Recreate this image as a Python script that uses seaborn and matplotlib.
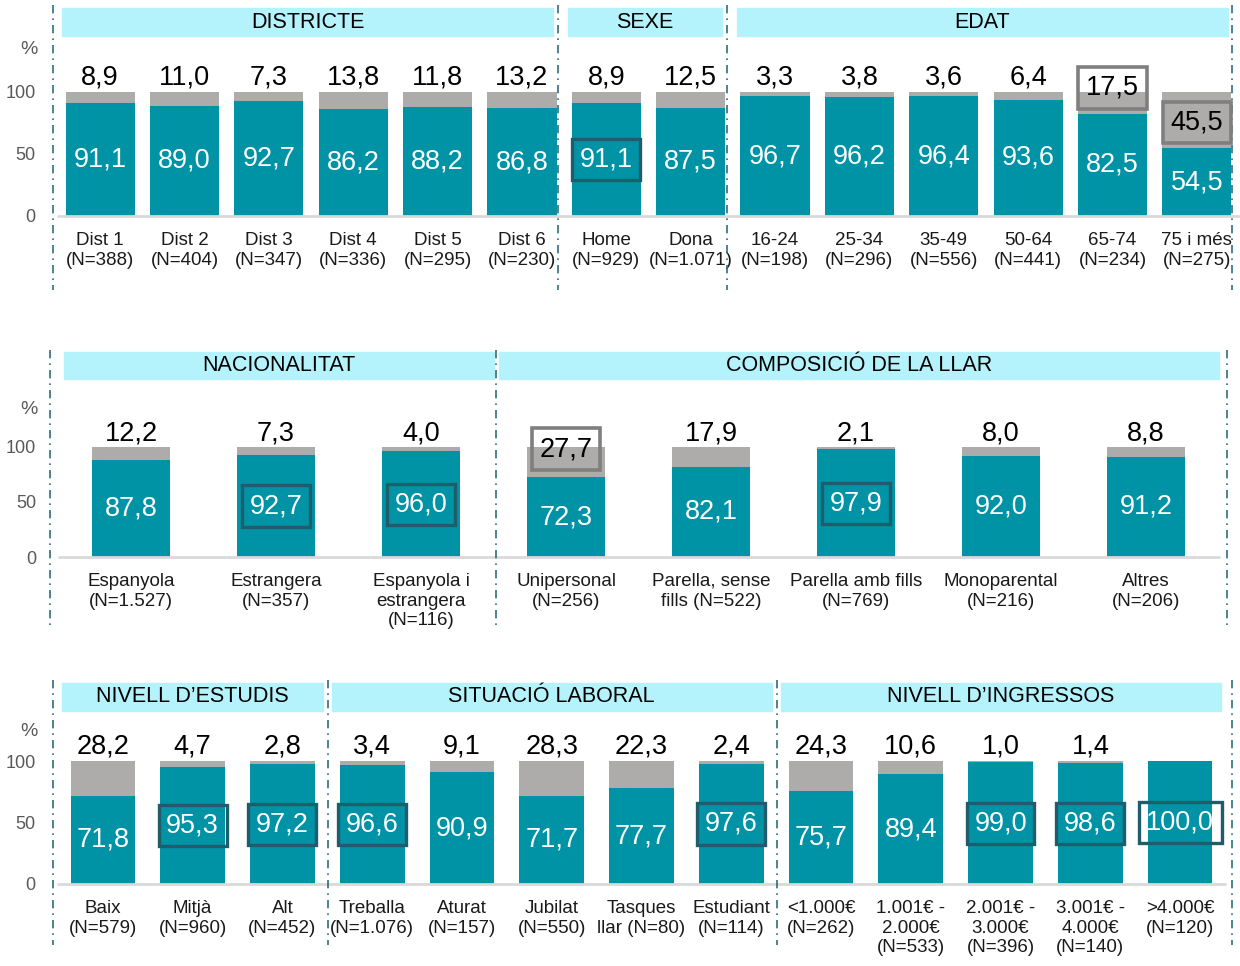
import matplotlib
matplotlib.use("Agg")
import matplotlib.pyplot as plt
import matplotlib.transforms as mtransforms
from matplotlib.patches import Rectangle
import seaborn as sns
import pandas as pd
import numpy as np

TEAL = "#0093A6"
GREY = "#AEABAB"
HEAD = "#B5F3FC"
BOX_TEAL = "#1F5D6B"
BOX_GREY = "#7F7F7F"
SEP = "#2E6E7A"

# ---- data: % "si" (teal) and % "no" (grey) ----
districte_cat = ["Dist 1\n(N=388)", "Dist 2\n(N=404)", "Dist 3\n(N=347)",
                 "Dist 4\n(N=336)", "Dist 5\n(N=295)", "Dist 6\n(N=230)"]
districte_si = [91.1, 89.0, 92.7, 86.2, 88.2, 86.8]
districte_no = [8.9, 11.0, 7.3, 13.8, 11.8, 13.2]

sexe_cat = ["Home\n(N=929)", "Dona\n(N=1.071)"]
sexe_si = [91.1, 87.5]
sexe_no = [8.9, 12.5]

edat_cat = ["16-24\n(N=198)", "25-34\n(N=296)", "35-49\n(N=556)",
            "50-64\n(N=441)", "65-74\n(N=234)", "75 i més\n(N=275)"]
edat_si = [96.7, 96.2, 96.4, 93.6, 82.5, 54.5]
edat_no = [3.3, 3.8, 3.6, 6.4, 17.5, 45.5]

nac_cat = ["Espanyola\n(N=1.527)", "Estrangera\n(N=357)", "Espanyola i\nestrangera\n(N=116)"]
nac_si = [87.8, 92.7, 96.0]
nac_no = [12.2, 7.3, 4.0]

llar_cat = ["Unipersonal\n(N=256)", "Parella, sense\nfills (N=522)", "Parella amb fills\n(N=769)",
            "Monoparental\n(N=216)", "Altres\n(N=206)"]
llar_si = [72.3, 82.1, 97.9, 92.0, 91.2]
llar_no = [27.7, 17.9, 2.1, 8.0, 8.8]

estudis_cat = ["Baix\n(N=579)", "Mitjà\n(N=960)", "Alt\n(N=452)"]
estudis_si = [71.8, 95.3, 97.2]
estudis_no = [28.2, 4.7, 2.8]

laboral_cat = ["Treballa\n(N=1.076)", "Aturat\n(N=157)", "Jubilat\n(N=550)",
               "Tasques\nllar (N=80)", "Estudiant\n(N=114)"]
laboral_si = [96.6, 90.9, 71.7, 77.7, 97.6]
laboral_no = [3.4, 9.1, 28.3, 22.3, 2.4]

ingressos_cat = ["<1.000€\n(N=262)", "1.001€ -\n2.000€\n(N=533)", "2.001€ -\n3.000€\n(N=396)",
                 "3.001€ -\n4.000€\n(N=140)", ">4.000€\n(N=120)"]
ingressos_si = [75.7, 89.4, 99.0, 98.6, 100.0]
ingressos_no = [24.3, 10.6, 1.0, 1.4, np.nan]

# highlighted labels
boxed_si = {"Home\n(N=929)", "Estrangera\n(N=357)", "Espanyola i\nestrangera\n(N=116)",
            "Parella amb fills\n(N=769)", "Mitjà\n(N=960)", "Alt\n(N=452)",
            "Treballa\n(N=1.076)", "Estudiant\n(N=114)", "2.001€ -\n3.000€\n(N=396)",
            "3.001€ -\n4.000€\n(N=140)", ">4.000€\n(N=120)"}
boxed_no = {"65-74\n(N=234)", "75 i més\n(N=275)", "Unipersonal\n(N=256)"}

rows = [
    [("DISTRICTE", districte_cat, districte_si, districte_no),
     ("SEXE", sexe_cat, sexe_si, sexe_no),
     ("EDAT", edat_cat, edat_si, edat_no)],
    [("NACIONALITAT", nac_cat, nac_si, nac_no),
     ("COMPOSICIÓ DE LA LLAR", llar_cat, llar_si, llar_no)],
    [("NIVELL D’ESTUDIS", estudis_cat, estudis_si, estudis_no),
     ("SITUACIÓ LABORAL", laboral_cat, laboral_si, laboral_no),
     ("NIVELL D’INGRESSOS", ingressos_cat, ingressos_si, ingressos_no)],
]

# ---- layout (pixels) ----
W, H = 1240, 966
row_layout = [
    dict(left=58, right=1239, base=216, top=92, bar_w=0.82, head=(8, 36), head_pad=(0.45, 0.37),
         sep=(5, 290), sep_in=-0.07, sep_out=-0.08, pct=134),
    dict(left=58.5, right=1218.5, base=557, top=447, bar_w=0.54, head=(352, 379), head_pad=(0.46, 0.5),
         sep=(350, 625), sep_in=0.02, sep_out=0.06, pct=134),
    dict(left=58, right=1225, base=884, top=761, bar_w=0.72, head=(683, 711), head_pad=(0.45, 0.45),
         sep=(680, 945), sep_in=0.01, sep_out=0.08, pct=124),
]

sns.set_theme(style="white")
plt.rcParams["font.family"] = ["Liberation Sans", "DejaVu Sans"]

fig = plt.figure(figsize=(12.4, 9.66), dpi=100)


def fmt(v):
    return f"{v:.1f}".replace(".", ",")


for groups, lay in zip(rows, row_layout):
    cats, si, no, spans = [], [], [], []
    for title, c, s, n in groups:
        spans.append((title, len(cats), len(cats) + len(c) - 1))
        cats += c
        si += s
        no += n
    df = pd.DataFrame({"cat": cats, "si": si, "no": no})
    df["total"] = df["si"] + df["no"].fillna(0)
    n = len(df)

    ax = fig.add_axes([lay["left"] / W, 1 - lay["base"] / H,
                       (lay["right"] - lay["left"]) / W, (lay["base"] - lay["top"]) / H])
    sns.barplot(data=df, x="cat", y="total", color=GREY, saturation=1, width=lay["bar_w"],
                errorbar=None, linewidth=0, ax=ax)
    sns.barplot(data=df, x="cat", y="si", color=TEAL, saturation=1, width=lay["bar_w"],
                errorbar=None, linewidth=0, ax=ax)
    ax.set_xlim(-0.5, n - 0.5)
    ax.set_ylim(0, 100)
    ax.set_xlabel("")
    ax.set_ylabel("")
    ax.set_yticks([0, 50, 100])
    ax.tick_params(axis="x", length=0, pad=11.5, labelsize=13.5, labelcolor="#1A1A1A")
    ax.tick_params(axis="y", length=0, pad=16, labelsize=13, labelcolor="#595959")
    sns.despine(ax=ax, left=True, bottom=True)
    ax.axhline(0, color="#D9D9D9", lw=2, clip_on=False, zorder=3)

    blend = mtransforms.blended_transform_factory(ax.transData, fig.transFigure)
    blend_pct = mtransforms.blended_transform_factory(fig.transFigure, ax.transData)
    ax.text(29 / W, lay["pct"], "%", transform=blend_pct, ha="center", va="center",
            fontsize=14, color="#595959")

    # value labels
    for i, row in df.iterrows():
        kw = {}
        if row["cat"] in boxed_si:
            kw["bbox"] = dict(boxstyle="square,pad=0.28", fc="none", ec=BOX_TEAL, lw=2.4)
        ax.text(i, row["si"] / 2, fmt(row["si"]), ha="center", va="center",
                color="white", fontsize=19.5, zorder=5, **kw)
        if not np.isnan(row["no"]):
            kw = {}
            y = 112
            if row["cat"] in boxed_no:
                kw["bbox"] = dict(boxstyle="square,pad=0.28", fc="none", ec=BOX_GREY, lw=2.6)
                y = 100 - row["no"] / 2 - 2 if row["no"] > 40 else 112 - row["no"] / 2
            ax.text(i, y, fmt(row["no"]), ha="center", va="center",
                    color="black", fontsize=19.5, zorder=5, clip_on=False, **kw)

    # headers
    y0, y1 = lay["head"]
    pl, pr = lay["head_pad"]
    for title, a, b in spans:
        ax.add_patch(Rectangle((a - pl, 1 - y1 / H), (b - a) + pl + pr, (y1 - y0) / H,
                               transform=blend, color=HEAD, clip_on=False, zorder=1))
        ax.text((a + b) / 2 + (pr - pl) / 2, 1 - (y0 + y1) / 2 / H, title, transform=blend,
                ha="center", va="center", fontsize=15.5, color="black", zorder=2)

    # dash-dot separators
    s0, s1 = lay["sep"]
    xs = ([-0.56] + [a - 0.5 + lay["sep_in"] for _, a, _ in spans[1:]]
          + [n - 0.5 + lay["sep_out"]])
    for x in xs:
        ax.plot([x, x], [1 - s0 / H, 1 - s1 / H], transform=blend, color=SEP,
                lw=1.2, ls=(0, (5, 3, 1, 3)), clip_on=False, zorder=4)

fig.savefig("out.png", dpi=100)
